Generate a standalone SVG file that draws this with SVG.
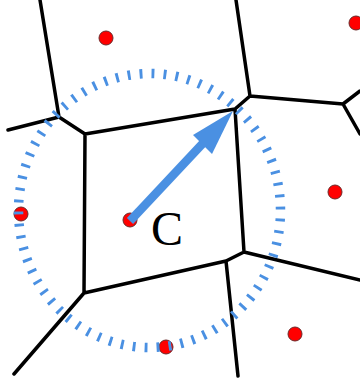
<svg xmlns="http://www.w3.org/2000/svg" width="360" height="381" viewBox="0 0 360 381">
<style>
.edge{stroke:#000;stroke-width:3.5;fill:none;stroke-linecap:round;stroke-linejoin:round}
.site{fill:#ff0000;stroke:#6a2a2a;stroke-width:1}
.ring{fill:none;stroke:#4a90e2;stroke-width:9.5}
.arrow{stroke:#4a90e2;stroke-width:8.5;fill:none}
.lbl{font-family:"Liberation Serif","Times New Roman",serif;font-size:48px;fill:#000}
</style>
<rect width="360" height="381" fill="#fff"/>
<g id="edges">
<path class="edge" d="M40,0 L59,117 M8,130 L59,117 L85,134 L235,109 M236,0 L250,96 L235,109 M250,96 L343,104 L360,91 M343,104 L360,134 M235,109 L244,252 L360,280 M244,252 L226,261 L238,376 M226,261 L84,293 L85,134 M84,293 L14,374"/>
</g>
<g id="sites">
<g id="p1"><circle class="site" cx="106" cy="38" r="7"/></g>
<g id="p2"><circle class="site" cx="356" cy="23" r="7"/></g>
<g id="p3"><circle class="site" cx="335" cy="192" r="7"/></g>
<g id="p4"><circle class="site" cx="21" cy="214" r="7"/></g>
<g id="p5"><circle class="site" cx="130" cy="220" r="7"/></g>
<g id="p6"><circle class="site" cx="166" cy="347" r="7"/></g>
<g id="p7"><circle class="site" cx="295" cy="334" r="7"/></g>
</g>
<g id="ring">
<ellipse class="ring" cx="149.5" cy="210.5" rx="131" ry="137" pathLength="70" stroke-dasharray="0.24 0.76" stroke-dashoffset="0.33"/>
</g>
<g id="arrow">
<line class="arrow" x1="130" y1="221" x2="206" y2="140"/>
<polygon points="233,111 193,135 212,154" fill="#4a90e2"/>
</g>
<g id="label"><text class="lbl" x="151" y="245">C</text></g>
</svg>
